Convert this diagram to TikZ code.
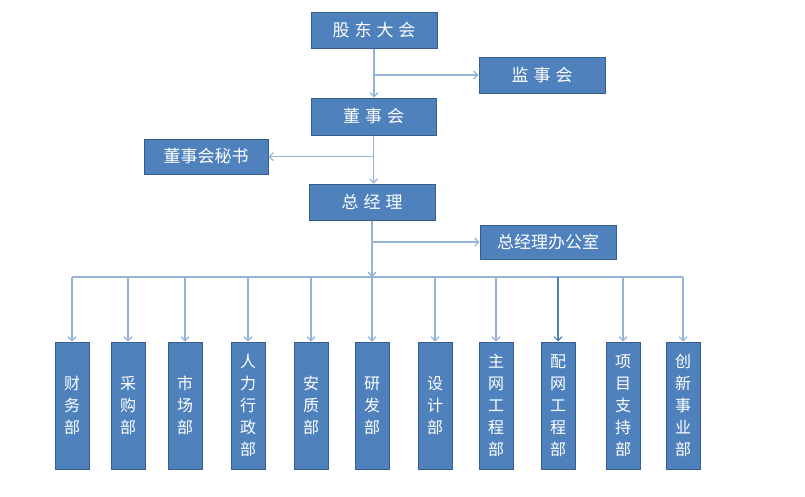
\documentclass[tikz,border=0pt]{standalone}
\usepackage{fontspec}
\setmainfont{Noto Sans CJK SC}
\usetikzlibrary{arrows.meta,calc}
\definecolor{boxfill}{HTML}{4F81BD}
\definecolor{boxline}{HTML}{385D8A}
\definecolor{connc}{HTML}{95B3D7}
\definecolor{conndark}{HTML}{4F81BD}
\newcommand{\gp}{\hspace{5pt}}
\begin{document}
\begin{tikzpicture}[x=1pt,y=-1pt,
  hbox/.style={draw=boxline, fill=boxfill, line width=1pt, text=white, inner sep=0pt, font=\fontsize{17}{17}\selectfont},
  vbox/.style={draw=boxline, fill=boxfill, line width=1pt, text=white, minimum width=34pt, minimum height=127pt, inner sep=0pt, align=center, font=\fontsize{16}{22}\selectfont},
  conn/.style={draw=connc, line width=1.1pt},
  arr/.style={conn, -{Straight Barb[length=4pt,width=8pt]}}
]
\useasboundingbox[fill=white] (0,0) rectangle (805,496);
% top chain
\node[hbox, minimum width=126pt, minimum height=36pt] (gd) at (374,30) {股\gp 东\gp 大\gp 会};
\node[hbox, minimum width=126pt, minimum height=36pt] (js) at (542,75) {监\gp 事\gp 会};
\node[hbox, minimum width=125pt, minimum height=37pt] (ds) at (373.5,116.5) {董\gp 事\gp 会};
\node[hbox, minimum width=124pt, minimum height=35pt] (ms) at (206,156.5) {董事会秘书};
\node[hbox, minimum width=126pt, minimum height=36pt] (zj) at (372,202) {总\gp 经\gp 理};
\node[hbox, minimum width=136pt, minimum height=34pt] (bg) at (548,242) {总经理办公室};
% departments
\node[vbox] (d1) at (72,405.5) {财\\务\\部};
\node[vbox] (d2) at (128,405.5) {采\\购\\部};
\node[vbox] (d3) at (185,405.5) {市\\场\\部};
\node[vbox] (d4) at (248,405.5) {人\\力\\行\\政\\部};
\node[vbox] (d5) at (311,405.5) {安\\质\\部};
\node[vbox] (d6) at (372,405.5) {研\\发\\部};
\node[vbox] (d7) at (435,405.5) {设\\计\\部};
\node[vbox] (d8) at (496,405.5) {主\\网\\工\\程\\部};
\node[vbox] (d9) at (558,405.5) {配\\网\\工\\程\\部};
\node[vbox] (d10) at (623,405.5) {项\\目\\支\\持\\部};
\node[vbox] (d11) at (683,405.5) {创\\新\\事\\业\\部};
\coordinate (bus) at (373,277);
% connectors
\draw[arr] (gd.south) -- (gd.south |- ds.north);
\draw[arr] (gd.south |- js.west) -- (js.west);
\draw[arr] (ds.south) -- (ds.south |- zj.north);
\draw[arr] (ds.south |- ms.east) -- (ms.east);
\draw[arr] (zj.south) -- (zj.south |- bus);
\draw[arr] (zj.south |- bg.west) -- (bg.west);
\draw[conn] (d1.north |- bus) -- (d11.north |- bus);
\foreach \i in {1,...,8,10,11}{
  \draw[arr] (d\i.north |- bus) -- (d\i.north);
}
\draw[arr, draw=conndark] (d9.north |- bus) -- (d9.north);
\end{tikzpicture}
\end{document}
